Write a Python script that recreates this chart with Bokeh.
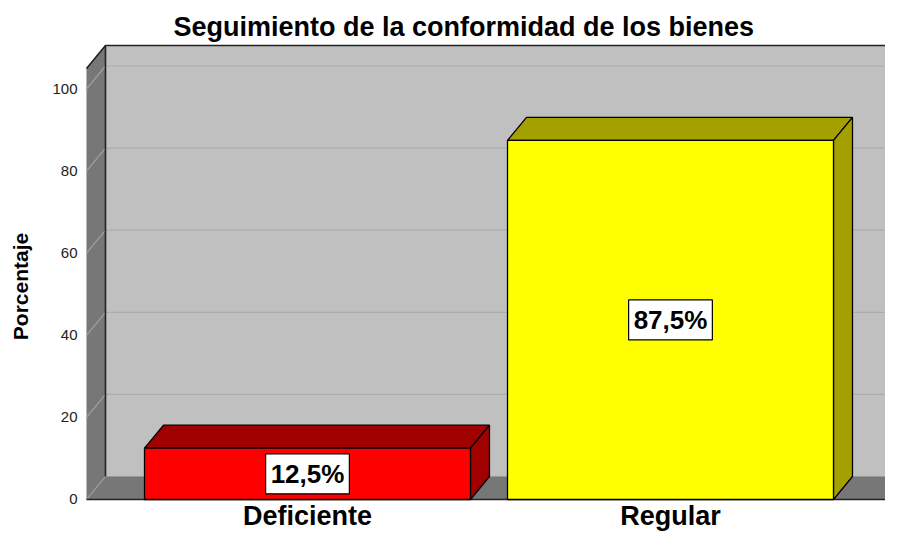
from bokeh.plotting import figure
from bokeh.models import FixedTicker, Range1d, ColumnDataSource
from bokeh.core.properties import value
from bokeh.embed import file_html
from bokeh.resources import INLINE

# ---- data ----
categories = ["Deficiente", "Regular"]
percentages = [12.5, 87.5]
y_ticks = [0, 20, 40, 60, 80, 100]
title_text = "Seguimiento de la conformidad de los bienes"
y_label = "Porcentaje"

# ---- styling / geometry ----
front_colors = ["#ff0000", "#ffff00"]
shade_colors = ["#a00000", "#a3a000"]
FONT = "Liberation Sans"
DX = 19 / 363.0          # depth offset in x units
DY = 5.60                # depth offset in y units
XL = (86 - 307) / 363.0  # left wall front x
XR = (892 - 307) / 363.0 # floor front right x
WALL_TOP = 105
BAR_W = 0.898
CAT_LABEL_Y = -4.02

p = figure(width=885, height=531, output_backend="svg", toolbar_location=None,
           x_range=Range1d(-0.6143, 1.5923), y_range=Range1d(-7.80, 111.57),
           x_axis_location=None,
           min_border_left=84, min_border_right=0, min_border_top=41, min_border_bottom=0)
p.background_fill_color = "white"
p.border_fill_color = "white"
p.outline_line_color = None
p.xgrid.visible = False
p.ygrid.visible = False

# ---- walls ----
far = 3.0
p.patch([XL + DX, far, far, XL + DX], [DY, DY, WALL_TOP + DY, WALL_TOP + DY],
        fill_color="#c0c0c0", line_color=None)
p.patch([XL, XL + DX, XL + DX, XL], [0, DY, WALL_TOP + DY, WALL_TOP],
        fill_color="#777777", line_color=None)
p.patch([XL, XR, XR + DX, XL + DX], [0, 0, DY, DY], fill_color="#777777", line_color=None)

# gridlines
gv = [t for t in y_ticks if t > 0]
p.segment(x0=[XL + DX] * len(gv), y0=[t + DY for t in gv], x1=[far] * len(gv),
          y1=[t + DY for t in gv], line_color="#acacac", line_width=1.2)
p.segment(x0=[XL] * len(gv), y0=gv, x1=[XL + DX] * len(gv), y1=[t + DY for t in gv],
          line_color="#a0a0a0", line_width=1.2)

# edges
p.line([XL, XL + DX, far], [0, DY, DY], line_color="#999999", line_width=1.2)
p.line([XL, XL + DX, far], [WALL_TOP, WALL_TOP + DY, WALL_TOP + DY], line_color="#222222", line_width=1.6)
p.line([XL + DX, XL + DX], [DY, WALL_TOP + DY], line_color="#222222", line_width=1.6)
p.line([XL, XR, XR + DX], [0, 0, DY], line_color="#222222", line_width=1.6)

# ---- bars ----
xs = list(range(len(categories)))
left = [x - BAR_W / 2 for x in xs]
right = [x + BAR_W / 2 for x in xs]
tops_x = [[l, r, r + DX, l + DX] for l, r in zip(left, right)]
tops_y = [[v, v, v + DY, v + DY] for v in percentages]
sides_x = [[r, r + DX, r + DX, r] for r in right]
sides_y = [[0, DY, v + DY, v] for v in percentages]
p.patches(tops_x, tops_y, fill_color=shade_colors, line_color="black", line_width=1.3)
p.patches(sides_x, sides_y, fill_color=shade_colors, line_color="black", line_width=1.3)
p.quad(left=left, right=right, bottom=[0] * len(xs), top=percentages,
       fill_color=front_colors, line_color="black", line_width=1.3)

# value labels
lab = ColumnDataSource(dict(x=xs, y=[v / 2 for v in percentages],
                            t=[f"{v:.1f}".replace(".", ",") + "%" for v in percentages]))
p.text(x="x", y="y", text="t", source=lab, text_font=value(FONT), text_font_style="bold",
       text_font_size="26px", text_align="center", text_baseline="middle", text_color="black",
       background_fill_color="white", border_line_color="black", border_line_width=1.2,
       padding=5)

# category labels
cat = ColumnDataSource(dict(x=xs, y=[CAT_LABEL_Y] * len(xs), t=categories))
p.text(x="x", y="y", text="t", source=cat, text_font=value(FONT), text_font_style="bold",
       text_font_size="27px", text_align="center", text_baseline="middle", text_color="black")

# ---- y axis ----
p.yaxis.ticker = FixedTicker(ticks=y_ticks)
p.yaxis.axis_line_color = None
p.yaxis.major_tick_line_color = None
p.yaxis.minor_tick_line_color = None
p.yaxis.major_tick_out = 0
p.yaxis.major_tick_in = 0
p.yaxis.major_label_text_font = FONT
p.yaxis.major_label_text_font_size = "15px"
p.yaxis.major_label_text_color = "#222222"
p.yaxis.major_label_standoff = 7
p.yaxis.axis_label = y_label
p.yaxis.axis_label_text_font = FONT
p.yaxis.axis_label_text_font_style = "bold"
p.yaxis.axis_label_text_font_size = "21px"
p.yaxis.axis_label_text_color = "black"
p.yaxis.axis_label_standoff = 17

p.title.text = title_text
p.title.text_font = FONT
p.title.text_font_style = "bold"
p.title.text_font_size = "27px"
p.title.text_color = "black"
p.title.align = "left"
p.title.offset = 89
p.title.standoff = 0

open("out.html", "w").write(file_html(p, INLINE))
